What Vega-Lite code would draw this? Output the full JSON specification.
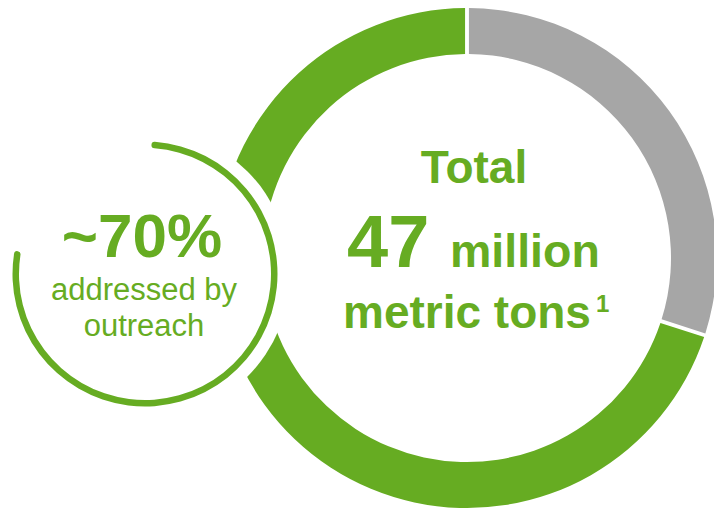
{
  "$schema": "https://vega.github.io/schema/vega-lite/v6.json",
  "width": 714,
  "height": 508,
  "padding": 0,
  "autosize": {"type": "none"},
  "background": "white",
  "config": {"view": {"stroke": null}, "text": {"font": "Liberation Sans"}},
  "datasets": {
    "shares": [
      {"segment": "Not addressed", "share": 30, "order": 1},
      {"segment": "Addressed by outreach", "share": 70, "order": 2}
    ],
    "one": [{"item": "outreach"}]
  },
  "layer": [
    {
      "data": {"name": "shares"},
      "mark": {"type": "arc", "outerRadius": 250, "innerRadius": 204, "padAngle": 0.012, "x": {"expr": "width/2 + 110"}, "y": {"expr": "height/2 + 4"}},
      "encoding": {
        "theta": {"field": "share", "type": "quantitative", "stack": true},
        "order": {"field": "order", "type": "quantitative"},
        "color": {"field": "segment", "type": "nominal", "legend": null,
          "scale": {"domain": ["Not addressed", "Addressed by outreach"], "range": ["#A6A6A6", "#66AC22"]}}
      }
    },
    {
      "data": {"name": "one"},
      "mark": {"type": "arc", "outerRadius": 145, "innerRadius": 0, "fill": "white", "x": {"expr": "width/2 - 212"}, "y": {"expr": "height/2 + 20"}},
      "encoding": {}
    },
    {
      "data": {"name": "one"},
      "mark": {"type": "arc", "outerRadius": 132.5, "innerRadius": 126, "theta": 0.05, "theta2": 4.89, "cornerRadius": 3.2, "fill": "#66AC22", "x": {"expr": "width/2 - 212"}, "y": {"expr": "height/2 + 20"}},
      "encoding": {}
    },
    {
      "data": {"values": [{"label": "Total"}]},
      "mark": {"type": "text", "fontWeight": "bold", "fontSize": 46, "align": "center", "baseline": "alphabetic", "color": "#66AC22", "x": {"expr": "width/2 + 117"}, "y": {"expr": "height/2 - 71"}},
      "encoding": {"text": {"field": "label"}}
    },
    {
      "data": {"values": [{"label": "47"}]},
      "mark": {"type": "text", "fontWeight": "bold", "fontSize": 74, "align": "left", "baseline": "alphabetic", "color": "#66AC22", "x": {"expr": "width/2 - 10"}, "y": {"expr": "height/2 + 13"}},
      "encoding": {"text": {"field": "label"}}
    },
    {
      "data": {"values": [{"label": "million"}]},
      "mark": {"type": "text", "fontWeight": "bold", "fontSize": 46.5, "align": "left", "baseline": "alphabetic", "color": "#66AC22", "x": {"expr": "width/2 + 93"}, "y": {"expr": "height/2 + 13"}},
      "encoding": {"text": {"field": "label"}}
    },
    {
      "data": {"values": [{"label": "metric tons"}]},
      "mark": {"type": "text", "fontWeight": "bold", "fontSize": 46, "align": "left", "baseline": "alphabetic", "color": "#66AC22", "x": {"expr": "width/2 - 14"}, "y": {"expr": "height/2 + 74"}},
      "encoding": {"text": {"field": "label"}}
    },
    {
      "data": {"values": [{"label": "1"}]},
      "mark": {"type": "text", "fontWeight": "bold", "fontSize": 24, "align": "left", "baseline": "alphabetic", "color": "#66AC22", "x": {"expr": "width/2 + 239"}, "y": {"expr": "height/2 + 58"}},
      "encoding": {"text": {"field": "label"}}
    },
    {
      "data": {"values": [{"label": "~70%"}]},
      "mark": {"type": "text", "fontWeight": "bold", "fontSize": 62, "align": "center", "baseline": "alphabetic", "color": "#66AC22", "x": {"expr": "width/2 - 215"}, "y": {"expr": "height/2 + 3"}},
      "encoding": {"text": {"field": "label"}}
    },
    {
      "data": {"values": [{"label": "addressed by"}]},
      "mark": {"type": "text", "fontSize": 31, "align": "center", "baseline": "alphabetic", "color": "#66AC22", "x": {"expr": "width/2 - 213"}, "y": {"expr": "height/2 + 46"}},
      "encoding": {"text": {"field": "label"}}
    },
    {
      "data": {"values": [{"label": "outreach"}]},
      "mark": {"type": "text", "fontSize": 31, "align": "center", "baseline": "alphabetic", "color": "#66AC22", "x": {"expr": "width/2 - 213"}, "y": {"expr": "height/2 + 82"}},
      "encoding": {"text": {"field": "label"}}
    }
  ]
}
